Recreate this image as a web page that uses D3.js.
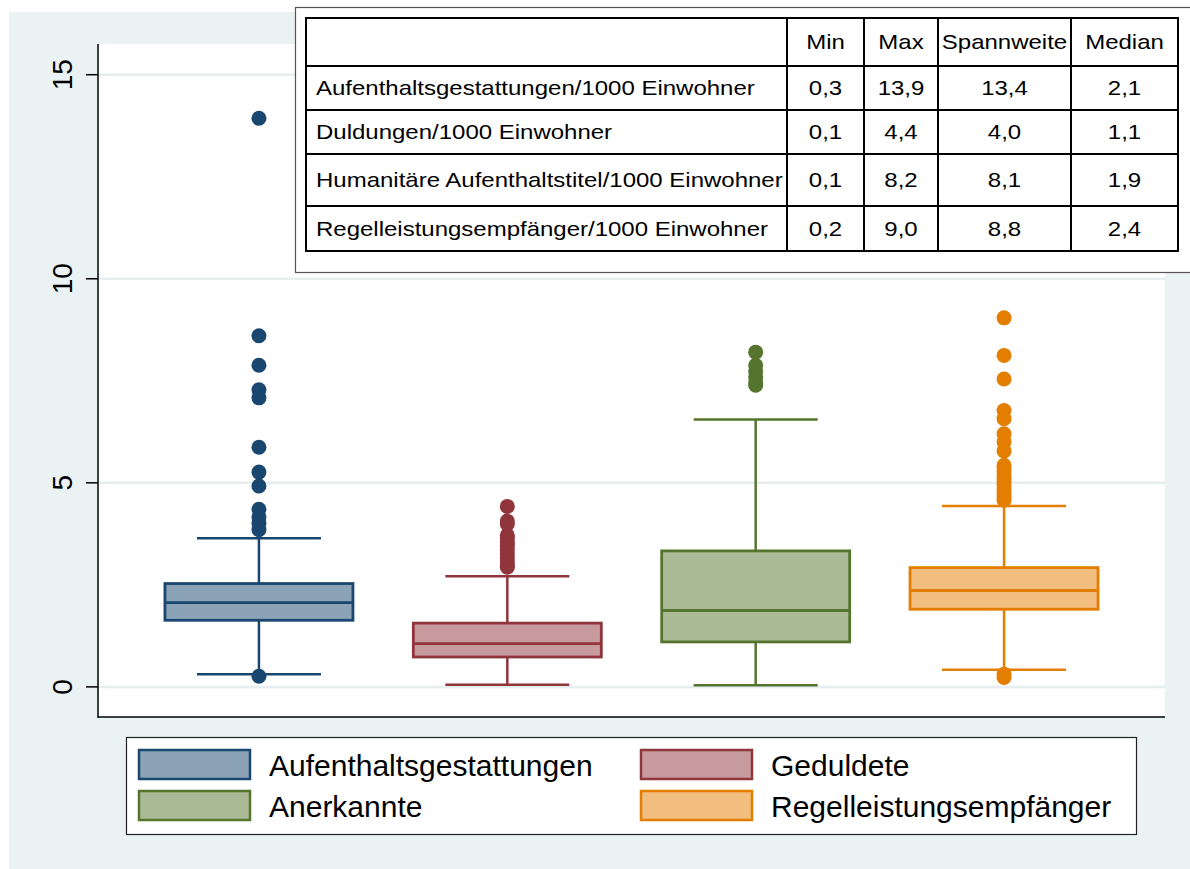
<!DOCTYPE html>
<html>
<head>
<meta charset="utf-8">
<script src="https://cdn.jsdelivr.net/npm/d3@7"></script>
<style>
  body { margin: 0; background: #fff; }
  text { font-family: "Liberation Sans", Arial, Helvetica, sans-serif; fill: #000; }
</style>
</head>
<body>
<div class="chart"></div>
<script>
// box plot data (per 1000 inhabitants)
const categories = ["Aufenthaltsgestattungen", "Geduldete", "Anerkannte", "Regelleistungsempfänger"];
const lowerWhisker = [0.30, 0.04, 0.03, 0.41];
const q1 = [1.62, 0.72, 1.09, 1.89];
const medians = [2.05, 1.05, 1.86, 2.35];
const q3 = [2.52, 1.55, 3.32, 2.91];
const upperWhisker = [3.63, 2.70, 6.54, 4.42];
const outliers = [
  [13.92, 8.59, 7.87, 7.27, 7.07, 5.86, 5.25, 4.91, 4.34, 4.15, 4.0, 3.84, 0.25],
  [4.41, 4.05, 3.98, 3.70, 3.62, 3.52, 3.45, 3.35, 3.25, 3.15, 3.05, 2.97, 2.92],
  [8.19, 7.87, 7.72, 7.58, 7.45, 7.38],
  [9.03, 8.11, 7.53, 6.76, 6.56, 6.19, 5.99, 5.77, 5.42, 5.35, 5.27, 5.18, 5.10, 5.02,
   4.94, 4.86, 4.78, 4.70, 4.62, 4.56, 0.30, 0.22]
];
const yTicks = [0, 5, 10, 15];

// summary table
const tableHeader = ["", "Min", "Max", "Spannweite", "Median"];
const tableLabels = [
  "Aufenthaltsgestattungen/1000 Einwohner",
  "Duldungen/1000 Einwohner",
  "Humanitäre Aufenthaltstitel/1000 Einwohner",
  "Regelleistungsempfänger/1000 Einwohner"
];
const tableMin = ["0,3", "0,1", "0,1", "0,2"];
const tableMax = ["13,9", "4,4", "8,2", "9,0"];
const tableRange = ["13,4", "4,0", "8,1", "8,8"];
const tableMedian = ["2,1", "1,1", "1,9", "2,4"];

// styles
const lineColors = ["#1a476f", "#90353b", "#55752f", "#e37e00"];
const fillColors = ["#8ca3b7", "#c79a9d", "#aaba97", "#f1be7f"];

const W = 1190, H = 869;
const plot = { left: 98, right: 1165, top: 44, bottom: 717 };

const svg = d3.select('.chart').append('svg')
  .attr('width', W)
  .attr('height', H);

// graph region background
svg.append('rect')
  .attr('x', 9).attr('y', 12)
  .attr('width', W - 9).attr('height', H - 12)
  .attr('fill', '#eaf2f3');

svg.append('rect')
  .attr('x', plot.left).attr('y', plot.top)
  .attr('width', plot.right - plot.left).attr('height', plot.bottom - plot.top)
  .attr('fill', '#fff');

const y = d3.scaleLinear().domain([-0.75, 15.74]).range([plot.bottom, plot.top]);
const x = d3.scalePoint().domain(categories).range([plot.left, plot.right]).padding(0.648);

// grid lines
const grid = svg.append('g')
  .attr('transform', `translate(${plot.left},0)`)
  .call(d3.axisLeft(y).tickValues(yTicks).tickSize(-(plot.right - plot.left)).tickFormat(''));
grid.select('.domain').remove();
grid.selectAll('line').attr('stroke', '#e6eef0').attr('stroke-width', 2.5);

// y axis
const yAxis = svg.append('g')
  .attr('transform', `translate(${plot.left},0)`)
  .call(d3.axisLeft(y).tickValues(yTicks).tickSize(12).tickSizeOuter(0).tickPadding(0));
yAxis.select('.domain').remove();
yAxis.selectAll('line').attr('stroke', '#000').attr('stroke-width', 1.5);
yAxis.selectAll('text')
  .attr('x', 0).attr('dy', 0)
  .attr('transform', 'translate(-26,0) rotate(-90)')
  .attr('text-anchor', 'middle')
  .style('font-size', '28px')
  .style('font-family', '"Liberation Sans", Arial, sans-serif')
  .attr('fill', '#000');

svg.append('line')
  .attr('x1', plot.left).attr('x2', plot.left)
  .attr('y1', plot.top).attr('y2', plot.bottom + 1)
  .attr('stroke', '#000').attr('stroke-width', 1.5);
svg.append('line')
  .attr('x1', plot.left).attr('x2', plot.right)
  .attr('y1', plot.bottom).attr('y2', plot.bottom)
  .attr('stroke', '#000').attr('stroke-width', 1.5);

// boxes
const boxW = 188, capW = 124;
categories.forEach((c, i) => {
  const g = svg.append('g').attr('class', 'box');
  const cx = x(c);
  const col = lineColors[i];
  // whiskers
  g.append('line')
    .attr('x1', cx).attr('x2', cx)
    .attr('y1', y(q3[i])).attr('y2', y(upperWhisker[i]))
    .attr('stroke', col).attr('stroke-width', 2.5);
  g.append('line')
    .attr('x1', cx).attr('x2', cx)
    .attr('y1', y(q1[i])).attr('y2', y(lowerWhisker[i]))
    .attr('stroke', col).attr('stroke-width', 2.5);
  [upperWhisker[i], lowerWhisker[i]].forEach(v => {
    g.append('line')
      .attr('x1', cx - capW / 2).attr('x2', cx + capW / 2)
      .attr('y1', y(v)).attr('y2', y(v))
      .attr('stroke', col).attr('stroke-width', 2.5);
  });
  // box
  g.append('rect')
    .attr('x', cx - boxW / 2).attr('y', y(q3[i]))
    .attr('width', boxW).attr('height', y(q1[i]) - y(q3[i]))
    .attr('fill', fillColors[i])
    .attr('stroke', col).attr('stroke-width', 2.8);
  g.append('line')
    .attr('x1', cx - boxW / 2).attr('x2', cx + boxW / 2)
    .attr('y1', y(medians[i])).attr('y2', y(medians[i]))
    .attr('stroke', col).attr('stroke-width', 2.8);
  // outliers
  g.selectAll('circle')
    .data(outliers[i])
    .enter().append('circle')
    .attr('cx', cx)
    .attr('cy', d => y(d))
    .attr('r', 7.5)
    .attr('fill', col);
});

// summary table
const colEdges = [306, 787, 864, 938, 1071, 1178];
const rowEdges = [18, 66, 110, 154, 206, 251];
const stretch = 1.2;

svg.append('rect')
  .attr('x', 295.5).attr('y', 7.5)
  .attr('width', W).attr('height', 265)
  .attr('fill', '#fff').attr('stroke', '#555').attr('stroke-width', 1.2);

const tbl = svg.append('g').attr('class', 'table');
rowEdges.forEach(ry => {
  tbl.append('line')
    .attr('x1', colEdges[0] - 1).attr('x2', colEdges[5] + 1)
    .attr('y1', ry).attr('y2', ry)
    .attr('stroke', '#000').attr('stroke-width', 2);
});
colEdges.forEach(cxv => {
  tbl.append('line')
    .attr('x1', cxv).attr('x2', cxv)
    .attr('y1', rowEdges[0]).attr('y2', rowEdges[5])
    .attr('stroke', '#000').attr('stroke-width', 2);
});

function cellText(str, col, row, anchor) {
  const yc = (rowEdges[row] + rowEdges[row + 1]) / 2 + 7;
  const xc = anchor === 'start' ? colEdges[col] + 10 : (colEdges[col] + colEdges[col + 1]) / 2;
  tbl.append('text')
    .attr('transform', `translate(${xc},${yc}) scale(${stretch},1)`)
    .attr('text-anchor', anchor)
    .style('font-size', '20px')
    .text(str);
}

tableHeader.forEach((h, j) => { if (h) cellText(h, j, 0, 'middle'); });
tableLabels.forEach((lab, r) => {
  cellText(lab, 0, r + 1, 'start');
  cellText(tableMin[r], 1, r + 1, 'middle');
  cellText(tableMax[r], 2, r + 1, 'middle');
  cellText(tableRange[r], 3, r + 1, 'middle');
  cellText(tableMedian[r], 4, r + 1, 'middle');
});

// legend
const leg = svg.append('g').attr('class', 'legend');
leg.append('rect')
  .attr('x', 126.5).attr('y', 737.5)
  .attr('width', 1010).attr('height', 97)
  .attr('fill', '#fff').attr('stroke', '#222').attr('stroke-width', 1.2);
const legCols = [139, 641];
const legRows = [750, 791];
categories.forEach((c, i) => {
  const lx = legCols[i % 2], ly = legRows[Math.floor(i / 2)];
  leg.append('rect')
    .attr('x', lx).attr('y', ly)
    .attr('width', 111).attr('height', 29)
    .attr('fill', fillColors[i])
    .attr('stroke', lineColors[i]).attr('stroke-width', 2.5);
  leg.append('text')
    .attr('x', lx + 130).attr('y', ly + 26)
    .style('font-size', '30px')
    .text(c);
});
</script>
</body>
</html>
